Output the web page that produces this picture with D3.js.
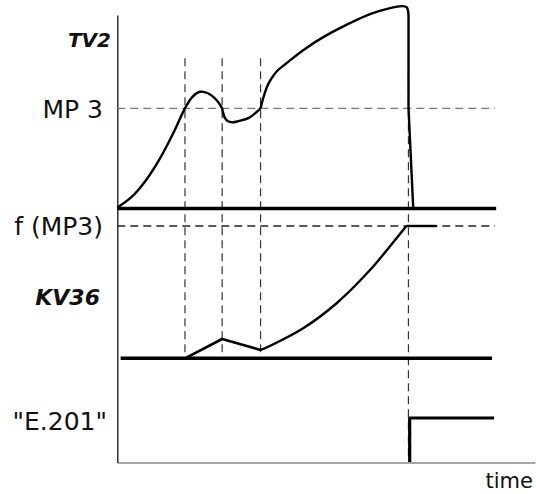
<!DOCTYPE html>
<html>
<head>
<meta charset="utf-8">
<script src="https://cdn.jsdelivr.net/npm/d3@7"></script>
<style>
  html, body { margin: 0; padding: 0; background: #fff; }
  svg { display: block; }
  text { font-family: "DejaVu Sans", Verdana, sans-serif; fill: #111; }
</style>
</head>
<body>
<div id="chart"></div>
<script>
// ---------- data ----------
const timeDomain = [0, 100];
const eventTimes = [16.2, 25.1, 34.3, 69.7];          // vertical dashed markers
const eventSpan = [[1.5, "kv"], [1.5, "kv"], [1.5, "kv"], [1.5, "e"]];

// TV2 curve (level 1 = MP 3)
const tv2Rise = [[0, 0.01], [3.3, 0.11], [7.0, 0.29], [10.5, 0.52], [13.5, 0.76], [16.2, 1.0],
                 [18.1, 1.12], [19.8, 1.165], [21.7, 1.15], [23.8, 1.08], [25.1, 1.0]];
const tv2Dip = [[25.1, 1.0], [25.7, 0.91], [26.5, 0.87], [27.6, 0.86], [29.0, 0.872], [31.5, 0.905], [34.3, 1.0]];
const tv2Surge = [[34.3, 1.0], [35.0, 1.11], [35.8, 1.21], [36.8, 1.29], [38.2, 1.37], [40.5, 1.45],
                  [44.5, 1.58], [49.3, 1.71], [55.7, 1.85], [60.5, 1.94], [65.3, 2.0], [68.1, 2.02],
                  [69.3, 2.008], [69.72, 1.92]];
const tv2Drop = [[69.72, 1.92], [69.72, 1.0], [70.85, 0.0]];
const tv2Base = [[0, 0], [90.7, 0]];

// KV36 curve (level 1 = f(MP3))
const kvJag = [[16.2, 0], [25.1, 0.146], [34.3, 0.063]];
const kvRamp = [[34.3, 0.063], [36.5, 0.093], [44.5, 0.227], [52.5, 0.416], [60.5, 0.667],
                [66.5, 0.894], [69.2, 1.0]];
const kvHold = [[69.2, 1.0], [76.5, 1.0]];
const kvBase = [[0.8, 0], [89.7, 0]];

// "E.201" step
const e201 = [[70.0, 0], [70.0, 1], [90.2, 1]];

// threshold lines
const thresholds = [{ level: 1, panel: "tv", end: 90.4, color: "#777" },
                    { level: 1, panel: "kv", end: 90.4, color: "#222" }];

// labels
const labels = [
  { text: "TV2", panel: "tv", level: 1.615, dx: 111, bold: true, size: 20 },
  { text: "MP 3", panel: "tv", level: 0.9, dx: 103, bold: false, size: 25 },
  { text: "f (MP3)", panel: "kv", level: 0.93, dx: 103, bold: false, size: 25 },
  { text: "KV36", panel: "kv", level: 0.4, dx: 100, bold: true, size: 22 },
  { text: "\"E.201\"", panel: "e", level: 0.72, dx: 107, bold: false, size: 25 }
];
const xAxisTitle = "time";

// ---------- layout ----------
const W = 536, H = 494;
const mLeft = 117.3, mRight = 535, mTop = 15, mBottom = 462.5;

const svg = d3.select("#chart").append("svg").attr("width", W).attr("height", H);

const x = d3.scaleLinear().domain(timeDomain).range([mLeft, mRight]);
const yFrame = d3.scaleLinear().domain([0, 1]).range([mBottom, mTop]);
const yTV = d3.scaleLinear().domain([0, 1]).range([208.5, 108.3]);
const yKV = d3.scaleLinear().domain([0, 1]).range([358.3, 226]);
const yE = d3.scaleLinear().domain([0, 1]).range([462, 418]);
const yOf = { tv: yTV, kv: yKV, e: yE };

// ---------- axes ----------
const gx = svg.append("g").attr("transform", `translate(0,${mBottom})`)
  .call(d3.axisBottom(x).tickValues([]).tickSizeOuter(0));
gx.select(".domain").attr("stroke", "#888").attr("stroke-width", 1.4);

const gy = svg.append("g").attr("transform", `translate(${mLeft},0)`)
  .call(d3.axisLeft(yFrame).tickValues([]).tickSizeOuter(0));
gy.select(".domain").attr("stroke", "#111").attr("stroke-width", 1.3);

// ---------- dashed guides ----------
thresholds.forEach(t => {
  const y = yOf[t.panel];
  svg.append("line")
    .attr("x1", x(0)).attr("x2", x(t.end))
    .attr("y1", y(t.level)).attr("y2", y(t.level))
    .attr("stroke", t.color).attr("stroke-width", 1.3)
    .attr("stroke-dasharray", "8,5");
});

eventTimes.forEach((t, i) => {
  const [topLevel, endPanel] = eventSpan[i];
  svg.append("line")
    .attr("x1", x(t)).attr("x2", x(t))
    .attr("y1", yTV(topLevel)).attr("y2", yOf[endPanel](0))
    .attr("stroke", "#333").attr("stroke-width", 1.2)
    .attr("stroke-dasharray", "8,5");
});

// ---------- series ----------
function draw(data, yScale, curve, width) {
  const line = d3.line().x(d => x(d[0])).y(d => yScale(d[1])).curve(curve);
  svg.append("path").datum(data).attr("d", line)
    .attr("fill", "none").attr("stroke", "#000").attr("stroke-width", width)
    .attr("stroke-linejoin", "round").attr("stroke-linecap", "butt");
}
const smooth = d3.curveCatmullRom.alpha(0.5);

draw(tv2Base, yTV, d3.curveLinear, 3.6);
draw(kvBase, yKV, d3.curveLinear, 3.6);

draw(tv2Rise, yTV, smooth, 2.4);
draw(tv2Dip, yTV, smooth, 2.4);
draw(tv2Surge, yTV, smooth, 2.4);
draw(tv2Drop, yTV, d3.curveLinear, 2.4);

draw(kvJag, yKV, d3.curveLinear, 2.6);
draw(kvRamp, yKV, smooth, 2.4);
draw(kvHold, yKV, d3.curveLinear, 2.4);

draw(e201, yE, d3.curveLinear, 3.2);

// ---------- labels ----------
labels.forEach(l => {
  svg.append("text")
    .attr("x", l.dx)
    .attr("y", yOf[l.panel](l.level))
    .attr("text-anchor", "end")
    .style("font-size", l.size + "px")
    .style("font-weight", l.bold ? "bold" : "normal")
    .style("font-style", l.bold ? "italic" : "normal")
    .text(l.text);
});

svg.append("text")
  .attr("x", 533).attr("y", 488)
  .attr("text-anchor", "end")
  .style("font-size", "21px")
  .text(xAxisTitle);
</script>
</body>
</html>
